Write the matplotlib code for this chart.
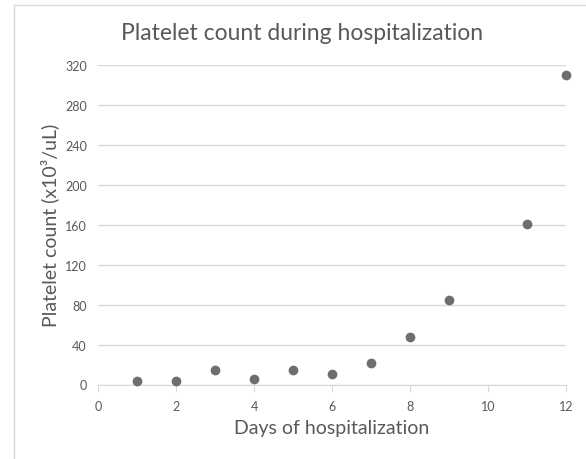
import matplotlib
matplotlib.use("Agg")
import matplotlib.pyplot as plt
from matplotlib.lines import Line2D

plt.rcParams['font.family'] = ['Lato', 'DejaVu Sans']

# data
days = [1, 2, 3, 4, 5, 6, 7, 8, 9, 11, 12]
platelets = [3.5, 3.5, 15, 6, 15, 11, 22, 48, 85, 161, 310]

txt = '#595959'
grid = '#d9d9d9'

fig = plt.figure(figsize=(5.86, 4.6), dpi=100)
ax = fig.add_axes([98 / 586, 1 - 385.5 / 460, 468 / 586, 319.5 / 460])

ax.scatter(days, platelets, s=36, color='#6e6e6e', zorder=3, clip_on=False)

ax.set_xlim(0, 12)
ax.set_ylim(0, 320)
ax.set_xticks(range(0, 13, 2))
ax.set_yticks(range(0, 321, 40))

ax.grid(axis='y', color=grid, linewidth=1)
ax.set_axisbelow(True)
for s in ['top', 'right', 'left']:
    ax.spines[s].set_visible(False)
ax.spines['bottom'].set_color(grid)
ax.tick_params(axis='x', colors=txt, labelsize=9, length=5, color=grid, pad=6)
ax.tick_params(axis='y', colors=txt, labelsize=9, length=0, pad=8)

ax.set_xlabel('Days of hospitalization', fontsize=14, color=txt, labelpad=5)
ax.set_ylabel('Platelet count (x10³/uL)', fontsize=14, color=txt, labelpad=4)
fig.text(302 / 586, 1 - 33 / 460, 'Platelet count during hospitalization',
         fontsize=16.5, color=txt, ha='center', va='center')

# chart frame (left + top edges visible)
fig.add_artist(Line2D([14 / 586, 14 / 586], [0, 1 - 6 / 460], color=grid, lw=1))
fig.add_artist(Line2D([14 / 586, 1], [1 - 6 / 460, 1 - 6 / 460], color=grid, lw=1))

fig.savefig('out.png', dpi=100)
